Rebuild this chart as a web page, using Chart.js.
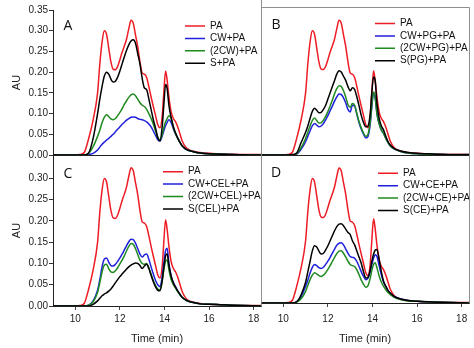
<!DOCTYPE html>
<html>
<head>
<meta charset="utf-8">
<script src="https://cdn.jsdelivr.net/npm/chart.js@4.4.0/dist/chart.umd.min.js"></script>
<style>
  html, body { margin: 0; padding: 0; background: #fff; }
  #wrap { position: relative; width: 474px; height: 348px; }
  #wrap canvas { position: absolute; left: 0; top: 0; }
</style>
</head>
<body>
<div id="wrap">
  <canvas id="pA" width="474" height="348"></canvas>
  <canvas id="pB" width="474" height="348"></canvas>
  <canvas id="pC" width="474" height="348"></canvas>
  <canvas id="pD" width="474" height="348"></canvas>
</div>
<script>
// retention time (min), shared by every trace
var times = [9, 10, 10.2, 10.4, 10.6, 10.8,
  11.0, 11.1, 11.2, 11.3, 11.4, 11.5, 11.6, 11.7, 11.8, 11.9,
  12.0, 12.1, 12.2, 12.3, 12.4, 12.5, 12.6, 12.7, 12.8, 12.9,
  13.0, 13.1, 13.2, 13.3, 13.4, 13.5, 13.6, 13.7, 13.8, 13.9,
  13.97, 14.05, 14.12, 14.2, 14.3, 14.4, 14.5, 14.6, 14.7, 14.8,
  15.0, 15.3, 15.6, 16.0, 16.5, 17.0, 18.4];

var xTicks = [10, 12, 14, 16, 18];
var yTicksTop = [0, 0.05, 0.10, 0.15, 0.20, 0.25, 0.30, 0.35];
var yTicksBottom = [0, 0.05, 0.10, 0.15, 0.20, 0.25, 0.30];

// PA alone (same trace in all four panels)
var pa = [0, 0, 0.001, 0.006, 0.04, 0.085,
  0.15, 0.22, 0.272, 0.3, 0.292, 0.258, 0.224, 0.207, 0.206, 0.214,
  0.23, 0.248, 0.263, 0.28, 0.305, 0.325, 0.318, 0.29, 0.262, 0.225,
  0.198, 0.195, 0.187, 0.165, 0.14, 0.117, 0.095, 0.073, 0.066, 0.095,
  0.15, 0.203, 0.18, 0.14, 0.104, 0.088, 0.08, 0.067, 0.05, 0.033,
  0.016, 0.009, 0.006, 0.004, 0.003, 0.002, 0.001];

// panel A
var cwPa = [0, 0, 0, 0, 0.001, 0.004,
  0.012, 0.019, 0.026, 0.031, 0.036, 0.04, 0.045, 0.05, 0.056, 0.062,
  0.068, 0.074, 0.079, 0.084, 0.088, 0.091, 0.092, 0.091, 0.088, 0.086,
  0.085, 0.083, 0.08, 0.075, 0.068, 0.058, 0.047, 0.037, 0.034, 0.046,
  0.058, 0.071, 0.079, 0.085, 0.078, 0.063, 0.05, 0.04, 0.03, 0.022,
  0.013, 0.008, 0.005, 0.003, 0.002, 0.001, 0];
var cw2Pa = [0, 0, 0, 0, 0.004, 0.02,
  0.045, 0.06, 0.078, 0.091, 0.097, 0.093, 0.087, 0.085, 0.088, 0.095,
  0.103, 0.112, 0.122, 0.131, 0.139, 0.145, 0.147, 0.143, 0.135, 0.126,
  0.12, 0.117, 0.11, 0.1, 0.088, 0.074, 0.058, 0.042, 0.036, 0.05,
  0.066, 0.08, 0.088, 0.095, 0.088, 0.067, 0.051, 0.04, 0.03, 0.022,
  0.013, 0.008, 0.005, 0.003, 0.002, 0.001, 0];
var sPa = [0, 0, 0, 0, 0.005, 0.04,
  0.1, 0.135, 0.165, 0.19, 0.2, 0.195, 0.183, 0.176, 0.178, 0.188,
  0.203, 0.22, 0.237, 0.253, 0.266, 0.275, 0.278, 0.27, 0.245, 0.22,
  0.185, 0.162, 0.158, 0.135, 0.11, 0.085, 0.065, 0.042, 0.034, 0.07,
  0.12, 0.17, 0.16, 0.12, 0.09, 0.068, 0.053, 0.04, 0.03, 0.022,
  0.013, 0.008, 0.005, 0.003, 0.002, 0.001, 0];

// panel B
var cwPgPa = [0, 0, 0, 0, 0.002, 0.014,
  0.032, 0.045, 0.058, 0.07, 0.076, 0.072, 0.068, 0.07, 0.076, 0.085,
  0.095, 0.107, 0.118, 0.13, 0.14, 0.147, 0.146, 0.138, 0.126, 0.11,
  0.104, 0.12, 0.118, 0.098, 0.078, 0.062, 0.05, 0.041, 0.045, 0.075,
  0.115, 0.15, 0.138, 0.1, 0.075, 0.06, 0.052, 0.04, 0.03, 0.022,
  0.014, 0.008, 0.005, 0.003, 0.002, 0.001, 0];
var cw2PgPa = [0, 0, 0, 0, 0.003, 0.018,
  0.04, 0.055, 0.07, 0.083, 0.089, 0.083, 0.077, 0.078, 0.084, 0.093,
  0.105, 0.118, 0.132, 0.148, 0.16, 0.167, 0.165, 0.155, 0.14, 0.122,
  0.115, 0.124, 0.12, 0.1, 0.08, 0.065, 0.053, 0.045, 0.05, 0.08,
  0.12, 0.152, 0.14, 0.1, 0.075, 0.06, 0.052, 0.04, 0.03, 0.022,
  0.014, 0.008, 0.005, 0.003, 0.002, 0.001, 0];
var sPgPa = [0, 0, 0, 0.001, 0.005, 0.03,
  0.055, 0.07, 0.088, 0.105, 0.113, 0.108, 0.102, 0.103, 0.11, 0.12,
  0.135, 0.15, 0.165, 0.18, 0.195, 0.203, 0.2, 0.19, 0.18, 0.165,
  0.155, 0.162, 0.158, 0.14, 0.118, 0.095, 0.078, 0.068, 0.07, 0.1,
  0.15, 0.188, 0.18, 0.125, 0.088, 0.07, 0.06, 0.045, 0.032, 0.024,
  0.015, 0.009, 0.006, 0.004, 0.003, 0.002, 0.001];

// panel C
var cwCelPa = [0, 0, 0, 0, 0.002, 0.012,
  0.037, 0.062, 0.092, 0.11, 0.113, 0.103, 0.095, 0.094, 0.098, 0.105,
  0.113, 0.122, 0.132, 0.142, 0.151, 0.157, 0.156, 0.148, 0.135, 0.122,
  0.115, 0.12, 0.122, 0.11, 0.092, 0.075, 0.06, 0.05, 0.045, 0.07,
  0.1, 0.13, 0.136, 0.1, 0.07, 0.055, 0.045, 0.035, 0.027, 0.02,
  0.013, 0.008, 0.005, 0.004, 0.003, 0.002, 0];
var cw2CelPa = [0, 0, 0, 0, 0.002, 0.01,
  0.032, 0.055, 0.08, 0.096, 0.098, 0.088, 0.08, 0.079, 0.083, 0.09,
  0.099, 0.108, 0.118, 0.13, 0.14, 0.147, 0.145, 0.135, 0.121, 0.108,
  0.1, 0.098, 0.1, 0.09, 0.075, 0.06, 0.048, 0.04, 0.038, 0.06,
  0.085, 0.105, 0.108, 0.085, 0.062, 0.05, 0.042, 0.033, 0.026, 0.02,
  0.013, 0.008, 0.005, 0.004, 0.003, 0.002, 0];
var sCelPa = [0, 0, 0, 0, 0, 0.004,
  0.012, 0.018, 0.024, 0.028, 0.031, 0.035, 0.04, 0.047, 0.055, 0.062,
  0.069, 0.075, 0.081, 0.087, 0.092, 0.096, 0.099, 0.101, 0.1, 0.095,
  0.088, 0.094, 0.098, 0.088, 0.072, 0.057, 0.045, 0.037, 0.036, 0.06,
  0.09, 0.118, 0.123, 0.095, 0.07, 0.054, 0.044, 0.035, 0.027, 0.02,
  0.013, 0.008, 0.005, 0.004, 0.003, 0.002, 0];

// panel D
var cwCePa = [0, 0, 0, 0, 0.003, 0.015,
  0.04, 0.055, 0.072, 0.086, 0.093, 0.09, 0.085, 0.083, 0.086, 0.093,
  0.101, 0.11, 0.12, 0.13, 0.139, 0.144, 0.145, 0.14, 0.13, 0.12,
  0.112, 0.11, 0.108, 0.1, 0.088, 0.075, 0.064, 0.056, 0.06, 0.075,
  0.092, 0.108, 0.116, 0.112, 0.09, 0.068, 0.05, 0.04, 0.03, 0.023,
  0.015, 0.009, 0.006, 0.004, 0.003, 0.002, 0];
var cw2CePa = [0, 0, 0, 0, 0.002, 0.01,
  0.028, 0.042, 0.056, 0.067, 0.073, 0.07, 0.066, 0.064, 0.067, 0.073,
  0.081, 0.09, 0.1, 0.11, 0.119, 0.125, 0.126, 0.12, 0.111, 0.101,
  0.093, 0.09, 0.088, 0.08, 0.068, 0.055, 0.045, 0.038, 0.042, 0.06,
  0.078, 0.093, 0.097, 0.085, 0.065, 0.05, 0.04, 0.032, 0.025, 0.02,
  0.013, 0.008, 0.005, 0.004, 0.003, 0.002, 0];
var sCePa = [0, 0, 0, 0, 0.003, 0.02,
  0.05, 0.075, 0.1, 0.125, 0.138, 0.135, 0.125, 0.118, 0.12, 0.128,
  0.138, 0.15, 0.162, 0.174, 0.184, 0.19, 0.191, 0.186, 0.178, 0.17,
  0.165, 0.15, 0.14, 0.125, 0.11, 0.095, 0.075, 0.06, 0.062, 0.08,
  0.1, 0.118, 0.127, 0.129, 0.105, 0.075, 0.052, 0.04, 0.03, 0.024,
  0.015, 0.009, 0.006, 0.004, 0.003, 0.002, 0];

var colors = ['#ee1c24', '#2020dc', '#1f8a1f', '#000000'];
var FONT = '"Liberation Sans", Arial, sans-serif';
var GRAY = '#8f8f8f', DARK = '#222';

// moves the legend to a fixed spot, draws the panel letter and frame lines
var panelDeco = {
  id: 'panelDeco',
  afterLayout: function (chart, args, o) {
    var lg = chart.legend, lab = chart.options.plugins.legend.labels;
    if (!lg || !o.legendAt) return;
    lg.left = o.legendAt[0] - lab.padding;
    lg.right = lg.left + lg.width;
    lg.top = o.legendAt[1] - lab.padding - lab.font.size / 2;
    lg.bottom = lg.top + 200;
  },
  afterDraw: function (chart, args, o) {
    var ctx = chart.ctx, a = chart.chartArea;
    ctx.save();
    (o.frame || []).forEach(function (f) {
      ctx.strokeStyle = f.color; ctx.lineWidth = 1; ctx.beginPath();
      var L = Math.round(a.left) + 0.5, R = Math.round(a.right) + 0.5;
      var T = Math.round(a.top) + 0.5, B = Math.round(a.bottom) + 0.5;
      if (f.side === 'left') { ctx.moveTo(L, f.y0 != null ? f.y0 : T); ctx.lineTo(L, B); }
      if (f.side === 'right') { ctx.moveTo(R, f.y0 != null ? f.y0 : T); ctx.lineTo(R, B); }
      if (f.side === 'top') { ctx.moveTo(L, T); ctx.lineTo(R, T); }
      if (f.side === 'bottom') { ctx.moveTo(L, B); ctx.lineTo(R, B); }
      ctx.stroke();
    });
    if (o.letter) {
      ctx.fillStyle = '#111';
      ctx.font = '14px "Open Sans", sans-serif';
      ctx.textAlign = 'center'; ctx.textBaseline = 'middle';
      ctx.fillText(o.letter[0], o.letter[1], o.letter[2]);
    }
    ctx.restore();
  }
};

function xScale(show, axisH, labelPad) {
  return {
    type: 'linear', min: 9, max: 18.33, display: show,
    afterBuildTicks: function (s) { s.ticks = xTicks.map(function (v) { return { value: v }; }); },
    afterFit: function (s) { if (show) s.height = axisH; },
    ticks: { maxRotation: 0, autoSkip: false, padding: labelPad, color: DARK,
      font: { family: FONT, size: 10 }, callback: function (v) { return String(v); } },
    grid: { drawOnChartArea: false, tickLength: 4, color: '#444' },
    border: { color: DARK },
    title: { display: true, text: 'Time (min)', color: DARK,
      font: { family: FONT, size: 11 }, padding: { top: 0, bottom: 2 } }
  };
}

function yScale(show, max, ticks) {
  return {
    type: 'linear', min: 0, max: max, display: show,
    afterBuildTicks: function (s) { s.ticks = ticks.map(function (v) { return { value: v }; }); },
    afterFit: function (s) { if (show) s.width = 53; },
    ticks: { padding: 1, color: DARK, font: { family: FONT, size: 10 },
      callback: function (v) { return v.toFixed(2); } },
    grid: { drawOnChartArea: false, tickLength: 4, color: '#333' },
    border: { color: DARK },
    title: { display: true, text: 'AU', color: DARK,
      font: { family: FONT, size: 11 }, padding: { top: 10, bottom: 0 } }
  };
}

function makePanel(id, labels, series, p) {
  var datasets = series.map(function (vals, i) {
    return {
      label: labels[i],
      data: times.map(function (t, k) { return { x: t, y: vals[k] }; }),
      borderColor: colors[i],
      backgroundColor: colors[i],
      borderWidth: 1.5,
      pointRadius: 0,
      cubicInterpolationMode: 'monotone',
      order: series.length - i
    };
  });
  return new Chart(document.getElementById(id), {
    type: 'line',
    data: { datasets: datasets },
    plugins: [panelDeco],
    options: {
      animation: false, responsive: false, devicePixelRatio: 1, events: [],
      layout: { padding: p.padding },
      plugins: {
        tooltip: { enabled: false },
        legend: {
          position: 'chartArea', align: 'start',
          labels: {
            usePointStyle: true, pointStyle: 'line', pointStyleWidth: 20,
            padding: 2.4, color: '#111', font: { family: FONT, size: 10 },
            sort: function (a, b) { return a.datasetIndex - b.datasetIndex; }
          }
        },
        panelDeco: { legendAt: p.legendAt, letter: p.letter, frame: p.frame }
      },
      scales: { x: p.x, y: p.y }
    }
  });
}

makePanel('pA', ['PA', 'CW+PA', '(2CW)+PA', 'S+PA'], [pa, cwPa, cw2Pa, sPa], {
  padding: { left: 0, top: 10, right: 213, bottom: 193 },
  x: xScale(false, 0, 0), y: yScale(true, 0.35, yTicksTop),
  legendAt: [185, 26], letter: ['A', 68, 26],
  frame: [{ side: 'right', color: GRAY, y0: 0 }, { side: 'bottom', color: DARK }]
});
makePanel('pB', ['PA', 'CW+PG+PA', '(2CW+PG)+PA', 'S(PG)+PA'], [pa, cwPgPa, cw2PgPa, sPgPa], {
  padding: { left: 261, top: 7, right: 5, bottom: 193 },
  x: xScale(false, 0, 0), y: yScale(false, 0.357, yTicksTop),
  legendAt: [375, 23.5], letter: ['B', 276, 25.5],
  frame: [{ side: 'top', color: GRAY }, { side: 'right', color: GRAY },
          { side: 'left', color: GRAY, y0: 0 }, { side: 'bottom', color: DARK }]
});
makePanel('pC', ['PA', 'CW+CEL+PA', '(2CW+CEL)+PA', 'S(CEL)+PA'], [pa, cwCelPa, cw2CelPa, sCelPa], {
  padding: { left: 0, top: 155, right: 213, bottom: 0 },
  x: xScale(true, 42, 3), y: yScale(true, 0.355, yTicksBottom),
  legendAt: [163, 171.7], letter: ['C', 68, 174.5],
  frame: [{ side: 'right', color: GRAY }]
});
makePanel('pD', ['PA', 'CW+CE+PA', '(2CW+CE)+PA', 'S(CE)+PA'], [pa, cwCePa, cw2CePa, sCePa], {
  padding: { left: 261, top: 155, right: 5, bottom: 0 },
  x: xScale(true, 45, 6), y: yScale(false, 0.3566, yTicksBottom),
  legendAt: [378, 173.3], letter: ['D', 276, 173],
  frame: [{ side: 'left', color: GRAY }, { side: 'right', color: GRAY }]
});
</script>
</body>
</html>
